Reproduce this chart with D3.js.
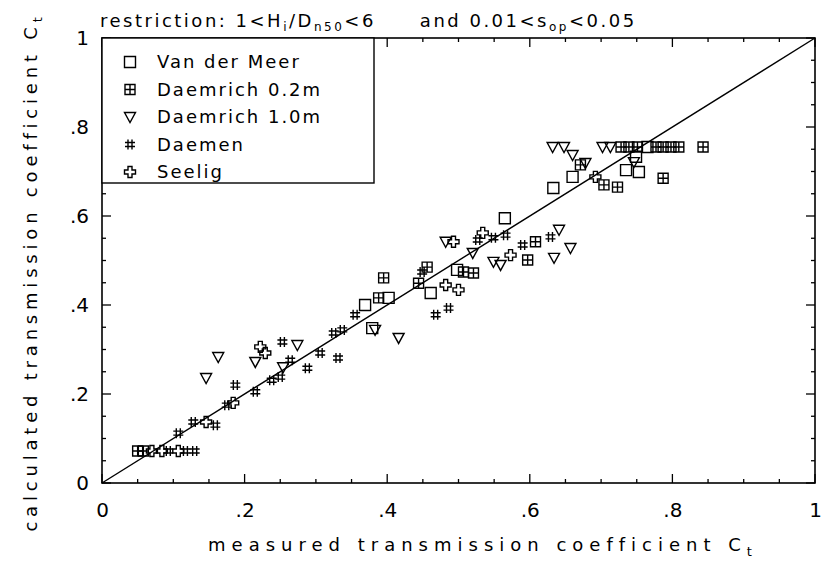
<!DOCTYPE html>
<html>
<head>
<meta charset="utf-8">
<script src="https://cdn.jsdelivr.net/npm/d3@7"></script>
<style>
  html, body { margin: 0; padding: 0; background: #fff; }
  svg text { font-family: "DejaVu Sans", sans-serif; fill: #000; }
</style>
</head>
<body>
<svg id="chart" width="825" height="566"></svg>
<script>
// Measured vs calculated transmission coefficient, five data sources
const tickValues = [0, 0.2, 0.4, 0.6, 0.8, 1];
const tickLabels = ["0", ".2", ".4", ".6", ".8", "1"];

const seriesLegend = ["Van der Meer", "Daemrich 0.2m", "Daemrich 1.0m", "Daemen", "Seelig"];

// Van der Meer (open squares)
const vdmX = [0.461, 0.498, 0.369, 0.379, 0.402, 0.633, 0.660, 0.735, 0.753, 0.765, 0.749, 0.565];
const vdmY = [0.427, 0.479, 0.400, 0.348, 0.416, 0.663, 0.688, 0.703, 0.699, 0.755, 0.733, 0.595];

// Daemrich 0.2m (boxed cross)
const d02X = [0.728, 0.739, 0.751, 0.777, 0.787, 0.798, 0.809, 0.843, 0.671, 0.704, 0.723, 0.787,
              0.456, 0.444, 0.507, 0.521, 0.395, 0.388, 0.597, 0.608, 0.050, 0.058];
const d02Y = [0.755, 0.755, 0.755, 0.755, 0.755, 0.755, 0.755, 0.755, 0.715, 0.670, 0.665, 0.685,
              0.485, 0.449, 0.474, 0.472, 0.461, 0.416, 0.501, 0.542, 0.072, 0.072];

// Daemrich 1.0m (down triangles)
const d10X = [0.632, 0.648, 0.702, 0.713, 0.660, 0.678, 0.746, 0.641, 0.657, 0.634,
              0.482, 0.549, 0.559, 0.520, 0.416, 0.383, 0.146, 0.163, 0.215, 0.254, 0.274];
const d10Y = [0.755, 0.755, 0.755, 0.755, 0.737, 0.719, 0.721, 0.569, 0.528, 0.506,
              0.542, 0.497, 0.490, 0.517, 0.326, 0.344, 0.236, 0.283, 0.272, 0.260, 0.310];

// Daemen (hash)
const dmnX = [0.093, 0.117, 0.130, 0.107, 0.128, 0.159, 0.175, 0.187, 0.215, 0.238, 0.250, 0.264,
              0.288, 0.306, 0.331, 0.253, 0.325, 0.337, 0.355, 0.449, 0.468, 0.486, 0.527, 0.549,
              0.566, 0.590, 0.629];
const dmnY = [0.072, 0.072, 0.072, 0.112, 0.137, 0.130, 0.175, 0.220, 0.205, 0.231, 0.238, 0.276,
              0.258, 0.292, 0.281, 0.317, 0.337, 0.344, 0.378, 0.474, 0.378, 0.393, 0.546, 0.551,
              0.557, 0.535, 0.553];

// Seelig (outlined cross)
const seeX = [0.070, 0.084, 0.107, 0.146, 0.184, 0.222, 0.229, 0.493, 0.534, 0.482, 0.500, 0.573, 0.692];
const seeY = [0.072, 0.072, 0.072, 0.137, 0.180, 0.306, 0.292, 0.542, 0.562, 0.445, 0.434, 0.512, 0.688];

const seriesX = [vdmX, d02X, d10X, dmnX, seeX];
const seriesY = [vdmY, d02Y, d10Y, dmnY, seeY];

const svg = d3.select("#chart");
const x = d3.scaleLinear().domain([0, 1]).range([102, 815]);
const y = d3.scaleLinear().domain([0, 1]).range([483, 38]);

// marker path generators, centred on 0,0
const markerPath = [
  // open square
  () => `M-5.5,-5.5H5.5V5.5H-5.5Z`,
  // square with inner cross
  () => `M-5,-5H5V5H-5ZM0,-5V5M-5,0H5`,
  // downward triangle
  () => `M-5.5,-4.5H5.5L0,5.5Z`,
  // hash
  () => `M-2,-5V5M2,-5V5M-5,-2H5M-5,2H5`,
  // outlined cross
  () => {
    const a = 2, b = 5.5;
    return `M${-a},${-b}H${a}V${-a}H${b}V${a}H${a}V${b}H${-a}V${a}H${-b}V${-a}H${-a}Z`;
  }
];

const g = svg.append("g");

// frame
g.append("rect")
  .attr("x", x(0)).attr("y", y(1))
  .attr("width", x(1) - x(0)).attr("height", y(0) - y(1))
  .attr("fill", "none").attr("stroke", "#000").attr("stroke-width", 1.6);

// inward ticks on all four sides, minor every 0.05
const minor = d3.range(0, 1.0001, 0.05);
const isMajor = v => Math.abs(v * 5 - Math.round(v * 5)) < 1e-6;
const tickLen = v => isMajor(v) ? 9 : 4;
const tk = g.append("g").attr("stroke", "#000").attr("stroke-width", 1.3);
minor.forEach(v => {
  tk.append("line").attr("x1", x(v)).attr("x2", x(v)).attr("y1", y(0)).attr("y2", y(0) - tickLen(v));
  tk.append("line").attr("x1", x(v)).attr("x2", x(v)).attr("y1", y(1)).attr("y2", y(1) + tickLen(v));
  tk.append("line").attr("x1", x(0)).attr("x2", x(0) + tickLen(v)).attr("y1", y(v)).attr("y2", y(v));
  tk.append("line").attr("x1", x(1)).attr("x2", x(1) - tickLen(v)).attr("y1", y(v)).attr("y2", y(v));
});

// tick labels through d3 axes (tick lines hidden)
const fmt = (d, i) => tickLabels[i];
const xAxis = g.append("g").attr("transform", `translate(0,${y(0)})`)
  .call(d3.axisBottom(x).tickValues(tickValues).tickFormat(fmt).tickSize(0).tickPadding(20));
const yAxis = g.append("g").attr("transform", `translate(${x(0)},0)`)
  .call(d3.axisLeft(y).tickValues(tickValues).tickFormat(fmt).tickSize(0).tickPadding(13));
[xAxis, yAxis].forEach(a => {
  a.select(".domain").remove();
  a.selectAll("text").attr("font-size", 20).attr("font-family", "DejaVu Sans");
});

// diagonal line of perfect agreement
g.append("path")
  .attr("d", d3.line()([[x(0), y(0)], [x(1), y(1)]]))
  .attr("stroke", "#000").attr("stroke-width", 1.4).attr("fill", "none");

// data markers
seriesX.forEach((xs, si) => {
  const pts = xs.map((v, i) => [v, seriesY[si][i]]);
  g.append("g").selectAll("path").data(pts).join("path")
    .attr("transform", d => `translate(${x(d[0])},${y(d[1])})`)
    .attr("d", markerPath[si]())
    .attr("fill", "none").attr("stroke", "#000").attr("stroke-width", 1.4);
});

// legend box
const lg = g.append("g");
const lgRight = 374, lgBottom = 183;
lg.append("rect")
  .attr("x", x(0)).attr("y", y(1))
  .attr("width", lgRight - x(0)).attr("height", lgBottom - y(1))
  .attr("fill", "#fff").attr("stroke", "#000").attr("stroke-width", 1.4);
seriesLegend.forEach((name, i) => {
  const cy = 62 + i * 27.5;
  lg.append("path").attr("transform", `translate(130,${cy})`).attr("d", markerPath[i]())
    .attr("fill", "none").attr("stroke", "#000").attr("stroke-width", 1.4);
  lg.append("text").attr("x", 157).attr("y", cy).attr("dy", "0.36em")
    .attr("font-size", 18).attr("letter-spacing", 2).text(name);
});

// title with subscripts
const title = svg.append("text").attr("x", 100).attr("y", 27)
  .attr("font-size", 18).attr("letter-spacing", 2.5);
title.append("tspan").text("restriction: 1<H");
title.append("tspan").attr("font-size", 12).attr("dy", 4).text("i");
title.append("tspan").attr("dy", -4).text("/D");
title.append("tspan").attr("font-size", 12).attr("dy", 4).text("n50");
title.append("tspan").attr("dy", -4).text("<6");
title.append("tspan").attr("dx", 44).text("and 0.01<s");
title.append("tspan").attr("font-size", 12).attr("dy", 4).text("op");
title.append("tspan").attr("dy", -4).text("<0.05");

// axis titles
const xt = svg.append("text").attr("x", 483).attr("y", 551)
  .attr("text-anchor", "middle").attr("font-size", 18).attr("letter-spacing", 6);
xt.append("tspan").text("measured transmission coefficient C");
xt.append("tspan").attr("font-size", 13).attr("dy", 5).text("t");

const yt = svg.append("text")
  .attr("transform", `translate(37,272) rotate(-90)`)
  .attr("text-anchor", "middle").attr("font-size", 18).attr("letter-spacing", 4.8);
yt.append("tspan").text("calculated transmission coefficient C");
yt.append("tspan").attr("font-size", 13).attr("dy", 5).text("t");
</script>
</body>
</html>
